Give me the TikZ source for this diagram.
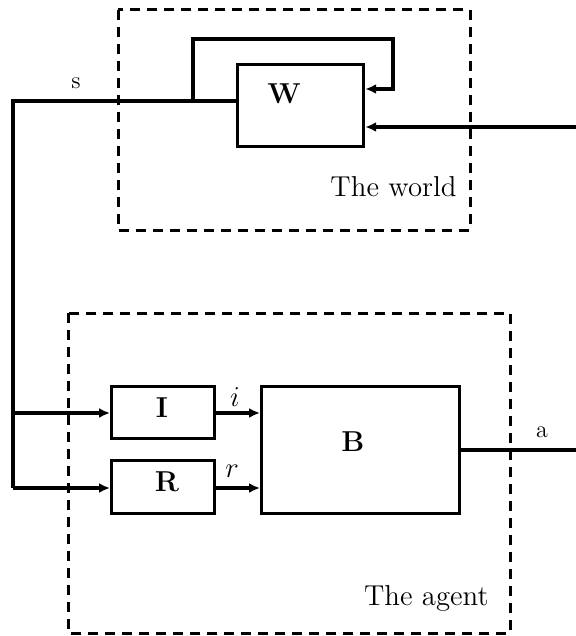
\documentclass[tikz,border=0pt]{standalone}
\usetikzlibrary{arrows.meta}
\begin{document}
\begin{tikzpicture}[x=0.5pt,y=-0.5pt,
  blk/.style={draw, line width=1.6pt, inner sep=0pt, anchor=north west},
  wire/.style={line width=1.6pt},
  sig/.style={wire, -{Latex[length=5.5pt,width=5pt]}},
  region/.style={draw, line width=1.5pt, dash pattern=on 5pt off 3.5pt},
  letter/.style={font=\Large\bfseries, inner sep=0pt},
  tag/.style={font=\large, inner sep=0pt},
  mtag/.style={font=\Large, inner sep=0pt},
  caption/.style={font=\Large, inner sep=0pt, anchor=base east}]
\useasboundingbox (0,0) rectangle (576,636);

% dashed enclosures
\draw[region] (118,10) rectangle (470,230);
\draw[region] (68,313) rectangle (510,633);
\node[caption] (worldlbl) at (457,197) {The world};
\node[caption] (agentlbl) at (489,605) {The agent};

% blocks
\node[blk, minimum width=63pt, minimum height=41pt] (W) at (236,63) {};
\node[blk, minimum width=51.5pt, minimum height=26pt] (I) at (110,385) {};
\node[blk, minimum width=51.5pt, minimum height=26.5pt] (R) at (110,459) {};
\node[blk, minimum width=99pt, minimum height=63.5pt] (B) at (260,385) {};

\node[letter] (Wt) at (284,94) {W};
\node[letter] (It) at (162,408) {I};
\node[letter] (Rt) at (167,482) {R};
\node[letter] (Bt) at (353,442) {B};

% junction points
\coordinate (tap) at (193,101);
\coordinate (corner) at (13,101);
\coordinate (split) at (13,413);
\coordinate (low) at (13,488);
\coordinate (loop) at (393,39);
\coordinate (loopin) at (0,89);
\coordinate (env) at (576,127);
\coordinate (act) at (576,450);

% world state and its feedback loop
\draw[wire] (W.west |- tap) -- (corner) -- (low);
\draw[sig] (tap) |- (loop) |- (W.east |- loopin);
\draw[sig, line width=2pt] (env) -- (W.east |- env);

% agent internals
\draw[sig] (split) -- (I.west |- split);
\draw[sig] (low) -- (R.west |- low);
\draw[sig] (I.east |- split) -- (B.west |- split);
\draw[sig] (R.east |- low) -- (B.west |- low);
\draw[wire] (B.east |- act) -- (act);

% signal labels
\node[tag] (slbl) at (76,83) {s};
\node[tag] (albl) at (542,432) {a};
\node[mtag] (ilbl) at (235,397) {$i$};
\node[mtag] (rlbl) at (232,471) {$r$};
\end{tikzpicture}
\end{document}
